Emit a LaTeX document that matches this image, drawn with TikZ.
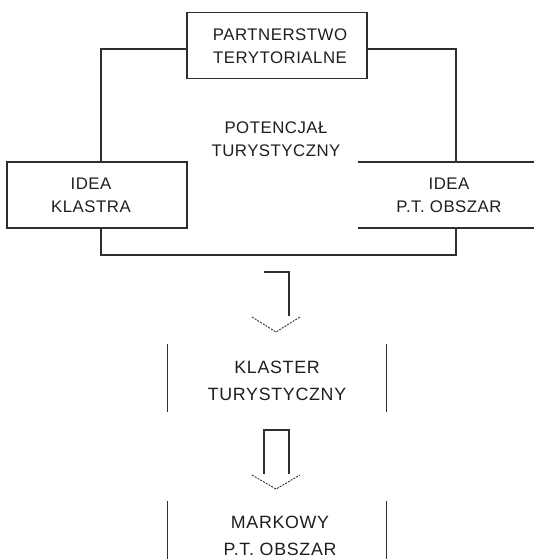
\documentclass[tikz,border=0pt]{standalone}
\usepackage{fontspec}
\setmainfont{Liberation Sans}
\definecolor{ink}{HTML}{2E2E2E}
\definecolor{txt}{HTML}{1E1E1E}
\begin{document}
\begin{tikzpicture}[x=1pt,y=-1pt,
  line width=1.3pt, draw=ink,
  box/.style={draw=ink, rectangle, minimum width=180pt, minimum height=66pt, inner sep=0pt},
  bare/.style={rectangle, minimum width=218pt, minimum height=66pt, inner sep=0pt},
  lbl/.style={text=txt, align=center, font=\fontsize{16.8}{23}\selectfont\addfontfeature{LetterSpace=3}},
  lblb/.style={text=txt, align=center, font=\fontsize{17.8}{27}\selectfont\addfontfeature{LetterSpace=4}},
  vtip/.style={draw=ink, line width=0.9pt, dash pattern=on 2pt off 1.2pt},
  link/.style={draw=ink, line width=1.3pt}]
\useasboundingbox (0,0) rectangle (534,559);

% top box
\node[box] (part) at (277,45.5) {};
\node[lbl] (partt) at (280,46) {PARTNERSTWO\\TERYTORIALNE};
% left box
\node[box] (klast) at (97,195) {};
\node[lbl] (klastt) at (91,195) {IDEA\\KLASTRA};
% right box (open sides)
\node[box, draw=none] (ptob) at (449,195) {};
\node[lbl] (ptobt) at (449,195) {IDEA\\P.T. OBSZAR};
\draw[link] (358,162) -- (534,162);
\draw[link] (358,228) -- (534,228);
% centre
\node[lbl] (pot) at (276,139) {POTENCJAŁ\\TURYSTYCZNY};

% loop connectors
\draw[link] (part.west |- 0,49) -| (klast.north -| 101,0);
\draw[link] (part.east |- 0,49) -| (456,162);
\draw[link] (101,228) |- (456,255) -- (456,228);

% arrow 1
\coordinate (a1s) at (264,272);
\draw[link] (a1s) -- (289,272) -- (289,316);
\draw[vtip] (252,317) -- (276,332) -- (300,317);

% klaster box
\node[bare] (kt) at (277,378) {};
\draw[link] (kt.north west) -- (kt.south west);
\draw[link] (kt.north east) -- (kt.south east);
\node[lblb] (ktt) at (277,381) {KLASTER\\TURYSTYCZNY};

% arrow 2
\draw[link] (264,474) -- (264,430) -- (289,430) -- (289,474);
\draw[vtip] (252,475) -- (276,489) -- (300,475);

% markowy box
\node[bare] (mk) at (277,535) {};
\draw[link] (mk.north west) -- (mk.south west);
\draw[link] (mk.north east) -- (mk.south east);
\node[lblb] (mkt) at (280,536) {MARKOWY\\P.T. OBSZAR};
\end{tikzpicture}
\end{document}
